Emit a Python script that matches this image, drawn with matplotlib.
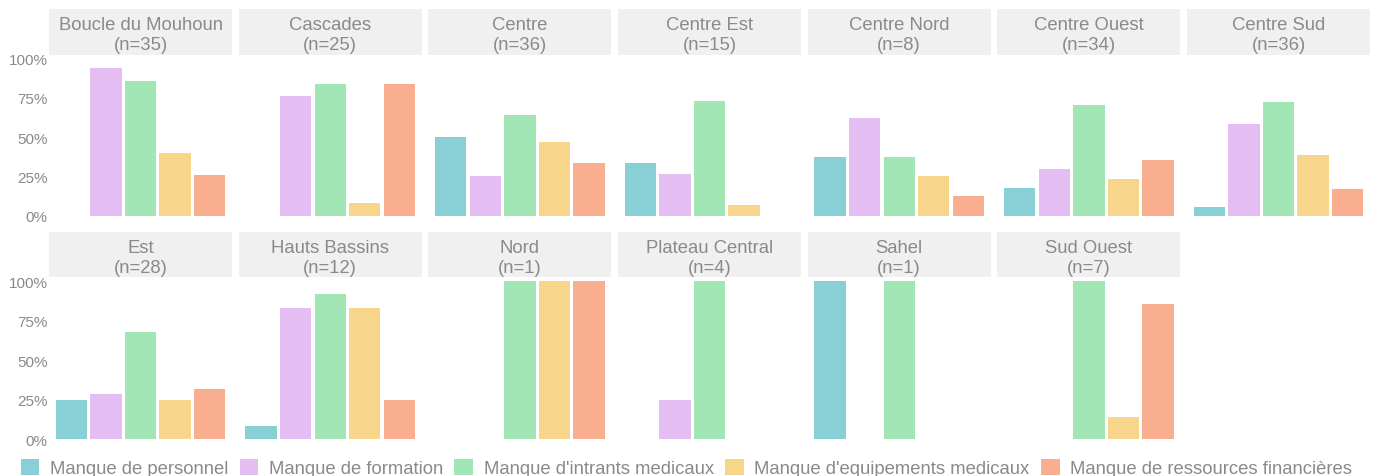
import matplotlib
matplotlib.use('Agg')
import matplotlib.pyplot as plt
from matplotlib.patches import Patch

plt.rcParams['font.family'] = ['Liberation Sans', 'DejaVu Sans']

regions = ['Boucle du Mouhoun', 'Cascades', 'Centre', 'Centre Est', 'Centre Nord',
           'Centre Ouest', 'Centre Sud', 'Est', 'Hauts Bassins', 'Nord',
           'Plateau Central', 'Sahel', 'Sud Ouest']
n_obs = [35, 25, 36, 15, 8, 34, 36, 28, 12, 1, 4, 1, 7]
reasons = ['Manque de personnel', 'Manque de formation', "Manque d'intrants medicaux",
           "Manque d'equipements medicaux", 'Manque de ressources financières']
# counts of establishments citing each reason, per region
personnel = [0, 0, 18, 5, 3, 6, 2, 7, 1, 0, 0, 1, 0]
formation = [33, 19, 9, 4, 5, 10, 21, 8, 10, 0, 1, 0, 0]
intrants = [30, 21, 23, 11, 3, 24, 26, 19, 11, 1, 4, 1, 7]
equipements = [14, 2, 17, 1, 2, 8, 14, 7, 10, 1, 0, 0, 1]
finances = [9, 21, 12, 0, 1, 12, 6, 9, 3, 1, 0, 0, 6]

colors = ['#88d0d6', '#e4bef2', '#a3e6b5', '#f7d68b', '#f9ae8f']
grey = '#8a8a8a'

W, H = 1384, 477
fig = plt.figure(figsize=(W / 100, H / 100), dpi=100)

series = [personnel, formation, intrants, equipements, finances]
col_x = [49 + 189.67 * k for k in range(7)]
pw = 183
rows = [(10, 55.7, 220.6), (233, 278.3, 444.3)]

for i, reg in enumerate(regions):
    r, c = divmod(i, 7)
    st_top, st_bot, p_bot = rows[r]
    x0 = col_x[c]
    # strip
    sax = fig.add_axes([x0 / W, 1 - st_bot / H, pw / W, (st_bot - st_top) / H])
    sax.set_facecolor('#f0f0f0')
    sax.set_xticks([])
    sax.set_yticks([])
    for s in sax.spines.values():
        s.set_visible(False)
    sax.text(0.5, 0.44, f'{reg}\n(n={n_obs[i]})', ha='center', va='center',
             fontsize=13.3, color=grey, linespacing=1.22, transform=sax.transAxes)
    # panel
    ax = fig.add_axes([x0 / W, 1 - p_bot / H, pw / W, (p_bot - st_bot) / H])
    vals = [s[i] / n_obs[i] for s in series]
    ax.bar(range(5), vals, width=0.905, color=colors)
    ax.set_xlim(-0.643, 4.643)
    ax.set_ylim(-0.025, 1.025)
    ax.set_xticks([])
    for s in ax.spines.values():
        s.set_visible(False)
    if c == 0:
        ax.set_yticks([0, 0.25, 0.5, 0.75, 1])
        ax.set_yticklabels(['0%', '25%', '50%', '75%', '100%'])
        ax.tick_params(axis='y', length=0, pad=1, labelsize=11, labelcolor=grey)
    else:
        ax.set_yticks([])

handles = [Patch(facecolor=col, edgecolor='none', label=lab) for col, lab in zip(colors, reasons)]
leg = fig.legend(handles=handles, loc='center', bbox_to_anchor=(0.496, 0.017), ncol=5,
                 frameon=False, fontsize=13.3, handlelength=1.0, handleheight=1.0,
                 handletextpad=0.58, columnspacing=0.62, borderpad=0, borderaxespad=0)
for t in leg.get_texts():
    t.set_color(grey)

fig.savefig('out.png', dpi=100)
